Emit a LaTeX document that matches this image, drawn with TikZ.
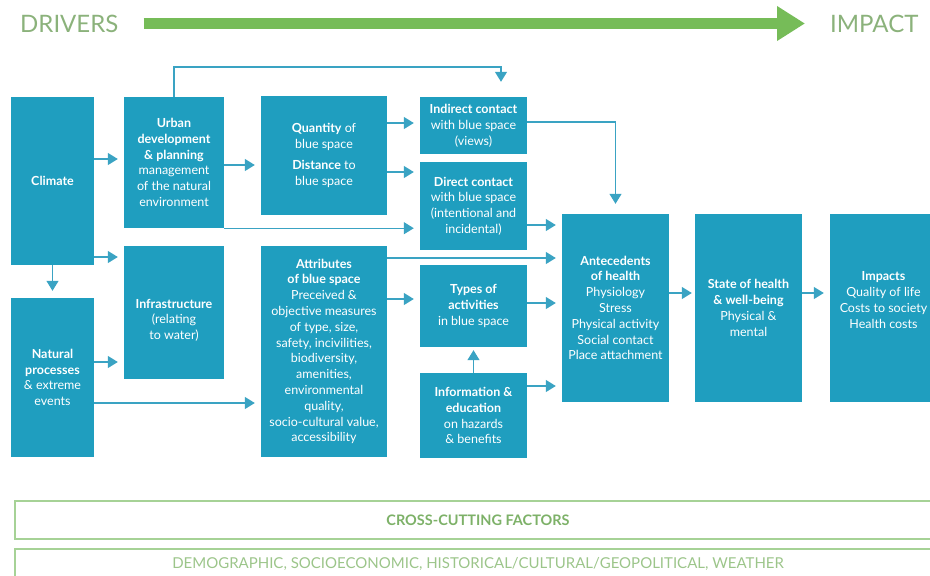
\documentclass[tikz,border=0pt]{standalone}
\usepackage{fontspec}
\setmainfont{Lato}
\usetikzlibrary{arrows.meta}

\definecolor{boxc}{HTML}{1F9EBF}
\definecolor{linec}{HTML}{3AA3C3}
\definecolor{titlegreen}{HTML}{8BB27B}
\definecolor{bargreen}{HTML}{76BC58}
\definecolor{bandline}{HTML}{A6D296}
\definecolor{bandtext}{HTML}{7DB168}
\definecolor{bandtextlight}{HTML}{9CC58A}

\newcommand{\bodyfont}{\fontsize{12.5}{15.8}\selectfont}

\begin{document}
\begin{tikzpicture}[x=1pt,y=-1pt,
  bx/.style={fill=boxc, text=white, inner sep=1pt, align=center, font=\bodyfont},
  arr/.style={draw=linec, line width=1.3pt, -{Triangle[length=10pt,width=12pt]}, shorten >=6pt},
  title/.style={inner sep=0pt, text=titlegreen, font=\fontsize{24}{28}\selectfont},
  band/.style={draw=bandline, line width=1.8pt, align=center, inner sep=0pt}
]
\useasboundingbox (0,0) rectangle (930,576);
\clip (0,0) rectangle (930,576);

% heading: drivers to impact
\node[title, anchor=west] (drivers) at (20,23.5) {DRIVERS};
\node[title, anchor=west] (impact) at (830,23.5) {IMPACT};
\draw[draw=bargreen, line width=11.5pt, -{Triangle[length=28pt,width=33pt]}]
  ([xshift=25pt]drivers.east) -- ([xshift=-25pt]impact.west);

% boxes
\node[bx, minimum width=83pt, minimum height=168pt] (climate) at (52.5,181) {\textbf{Climate}};
\node[bx, minimum width=100pt, minimum height=131pt] (urban) at (174,162.5)
  {\textbf{Urban}\\\textbf{development}\\\textbf{\& planning}\\management\\of the natural\\environment};
\node[bx, minimum width=126pt, minimum height=119pt] (quantity) at (324,155.5)
  {\textbf{Quantity} of\\blue space\\[5pt]\textbf{Distance} to\\blue space};
\node[bx, minimum width=107pt, minimum height=57pt] (indirect) at (473.5,125.5)
  {\textbf{Indirect contact}\\with blue space\\(views)};
\node[bx, minimum width=107pt, minimum height=88pt] (direct) at (473.5,206)
  {\textbf{Direct contact}\\with blue space\\(intentional and\\incidental)};
\node[bx, minimum width=100pt, minimum height=133pt] (infra) at (174,312.5)
  {\rule{0pt}{9pt}\\\textbf{Infrastructure}\\(relating\\to water)};
\node[bx, minimum width=83pt, minimum height=159pt] (natural) at (52.5,377.5)
  {\textbf{Natural}\\\textbf{processes}\\\& extreme\\events};
\node[bx, minimum width=126pt, minimum height=211pt] (attributes) at (324,351.5)
  {\textbf{Attributes}\\\textbf{of blue space}\\Preceived \&\\objective measures\\of type, size,\\safety, incivilities,\\biodiversity,\\amenities,\\environmental\\quality,\\socio-cultural value,\\accessibility};
\node[bx, minimum width=107pt, minimum height=82pt] (types) at (473.5,306)
  {\textbf{Types of}\\\textbf{activities}\\in blue space};
\node[bx, minimum width=107pt, minimum height=85pt] (info) at (473.5,415.5)
  {\textbf{Information \&}\\\textbf{education}\\on hazards\\\& benefits};
\node[bx, minimum width=107pt, minimum height=188pt] (ante) at (615.5,308)
  {\textbf{Antecedents}\\\textbf{of health}\\Physiology\\Stress\\Physical activity\\Social contact\\Place attachment};
\node[bx, minimum width=107pt, minimum height=188pt] (state) at (748.5,308)
  {\textbf{State of health}\\\textbf{\& well-being}\\Physical \&\\mental};
\node[bx, minimum width=107pt, minimum height=188pt] (impacts) at (883.5,308)
  {\textbf{Impacts}\\Quality of life\\Costs to society\\Health costs\\\mbox{}};

% connectors
\draw[arr] (climate.east |- 0,159) -- (urban.west |- 0,159);
\draw[arr] (climate.east |- 0,257) -- (infra.west |- 0,257);
\draw[arr, shorten >=7pt] (climate.south) -- (natural.north);
\draw[arr] (natural.east |- 0,362) -- (infra.west |- 0,362);
\draw[arr] (natural.east |- 0,403) -- (attributes.west |- 0,403);
\draw[arr] (urban.east |- 0,165) -- (quantity.west |- 0,165);
\draw[arr] (urban.south east) -- (direct.west |- urban.south east);
\draw[arr, shorten >=0pt] (urban.north) -- (urban.north |- 0,67)
  -| ([xshift=27.5pt,yshift=15pt]indirect.north);
\draw[arr] (quantity.east |- 0,123) -- (indirect.west |- 0,123);
\draw[arr] (quantity.east |- 0,172) -- (direct.west |- 0,172);
\draw[arr, shorten >=10pt] (indirect.east |- 0,122) -| (ante.north);
\draw[arr] (direct.east |- 0,225) -- (ante.west |- 0,225);
\draw[arr] (attributes.east |- 0,258) -- (ante.west |- 0,258);
\draw[arr] (attributes.east |- 0,299) -- (types.west |- 0,299);
\draw[arr] (types.east |- 0,303) -- (ante.west |- 0,303);
\draw[arr, shorten >=3pt] (info.north) -- (types.south);
\draw[arr] (info.east |- 0,386) -- (ante.west |- 0,386);
\draw[arr, shorten >=3pt] (ante.east |- 0,293) -- (state.west |- 0,293);
\draw[arr] (state.east |- 0,293) -- (impacts.west |- 0,293);

% cross-cutting bands
\node[band, minimum width=926pt, minimum height=38pt, text=bandtext,
  font=\fontsize{14.5}{16}\selectfont\bfseries] (cross) at (478,520) {CROSS-CUTTING FACTORS};
\node[band, minimum width=926pt, minimum height=30pt, text=bandtextlight,
  font=\fontsize{15}{17}\selectfont] (factors) at (478,564)
  {DEMOGRAPHIC, SOCIOECONOMIC, HISTORICAL/CULTURAL/GEOPOLITICAL, WEATHER};
\end{tikzpicture}
\end{document}
